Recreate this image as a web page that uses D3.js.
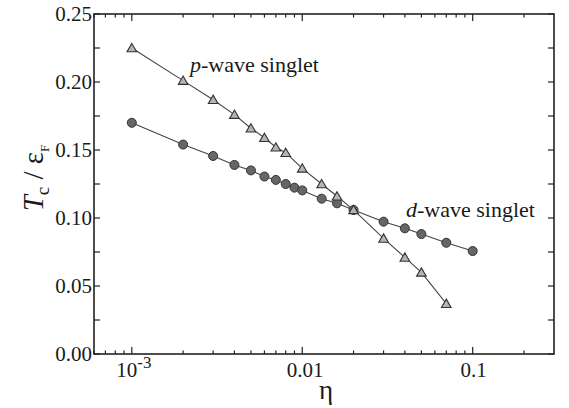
<!DOCTYPE html>
<html><head><meta charset="utf-8">
<script src="https://cdn.jsdelivr.net/npm/d3@7"></script>
<style>body{margin:0;background:#fff}svg{display:block}</style>
</head><body><svg id="c" width="569" height="408" font-family="Liberation Serif"></svg>
<script>
// Data
const pEta = [0.001,0.002,0.003,0.004,0.005,0.006,0.007,0.008,0.01,0.013,0.016,0.02,0.03,0.04,0.05,0.07];
const pTc  = [0.225,0.201,0.187,0.176,0.166,0.159,0.152,0.148,0.1365,0.125,0.116,0.106,0.085,0.071,0.060,0.037];
const dEta = [0.001,0.002,0.003,0.004,0.005,0.006,0.007,0.008,0.009,0.01,0.013,0.016,0.02,0.03,0.04,0.05,0.07,0.1];
const dTc  = [0.170,0.154,0.1456,0.139,0.1350,0.1305,0.128,0.125,0.1223,0.1203,0.1142,0.1108,0.1059,0.0973,0.0924,0.0882,0.0818,0.0757];
const yTicks = [0,0.05,0.10,0.15,0.20,0.25];
const xMajor = [0.001,0.01,0.1];

const svg = d3.select("#c");
const L=94,R=554,T=14,B=354;
const x = d3.scaleLog().domain([6e-4,0.3]).range([L,R]);
const y = d3.scaleLinear().domain([0,0.25]).range([B,T]);

// minor x ticks
const xMinor=[];
for (let e=-4;e<=-1;e++) for (let m=2;m<=9;m++){const v=m*Math.pow(10,e); if(v>=6e-4&&v<=0.3) xMinor.push(v);}
const yMinor=d3.range(0.025,0.25,0.05);

const g=svg.append("g").attr("stroke","#222").attr("stroke-width",1.2);
xMinor.forEach(v=>{g.append("line").attr("x1",x(v)).attr("x2",x(v)).attr("y1",B).attr("y2",B-3.5);
  g.append("line").attr("x1",x(v)).attr("x2",x(v)).attr("y1",T).attr("y2",T+3.5);});
xMajor.forEach(v=>{g.append("line").attr("x1",x(v)).attr("x2",x(v)).attr("y1",B).attr("y2",B-7);
  g.append("line").attr("x1",x(v)).attr("x2",x(v)).attr("y1",T).attr("y2",T+7);});
yTicks.forEach(v=>{g.append("line").attr("x1",L).attr("x2",L+6).attr("y1",y(v)).attr("y2",y(v));
  g.append("line").attr("x1",R).attr("x2",R-6).attr("y1",y(v)).attr("y2",y(v));});
yMinor.forEach(v=>{g.append("line").attr("x1",L).attr("x2",L+6).attr("y1",y(v)).attr("y2",y(v));
  g.append("line").attr("x1",R).attr("x2",R-6).attr("y1",y(v)).attr("y2",y(v));});
svg.append("rect").attr("x",L).attr("y",T).attr("width",R-L).attr("height",B-T)
  .attr("fill","none").attr("stroke","#222").attr("stroke-width",1.6);

const txt="#1a1a1a";
// y tick labels
yTicks.forEach(v=>svg.append("text").attr("x",L-2).attr("y",y(v)+7).attr("text-anchor","end")
  .attr("fill",txt).attr("font-size",21).text(d3.format(".2f")(v)));
// x tick labels
const t3=svg.append("text").attr("x",x(0.001)+2).attr("y",377).attr("text-anchor","middle").attr("fill",txt).attr("font-size",21);
t3.append("tspan").text("10");
t3.append("tspan").attr("dy",-9).attr("font-size",17).text("-3");
svg.append("text").attr("x",x(0.01)+3).attr("y",377).attr("text-anchor","middle").attr("fill",txt).attr("font-size",21).text("0.01");
svg.append("text").attr("x",x(0.1)+1).attr("y",377).attr("text-anchor","middle").attr("fill",txt).attr("font-size",21).text("0.1");

// axis titles
svg.append("text").attr("x",326).attr("y",399).attr("text-anchor","middle").attr("fill",txt).attr("font-size",27).text("η");
const yl=svg.append("text").attr("transform","translate(43,178) rotate(-90)").attr("text-anchor","middle").attr("fill",txt).attr("font-size",29);
yl.append("tspan").attr("font-style","italic").text("T");
yl.append("tspan").attr("dy",6).attr("font-size",19).text("c");
yl.append("tspan").attr("dy",-6).text(" / ε");
yl.append("tspan").attr("dy",6).attr("font-size",13).text("F");

// lines
const line=d3.line().x(d=>x(d[0])).y(d=>y(d[1]));
const pData=pEta.map((e,i)=>[e,pTc[i]]), dData=dEta.map((e,i)=>[e,dTc[i]]);
svg.append("path").attr("d",line(dData)).attr("fill","none").attr("stroke","#444").attr("stroke-width",1.1);
svg.append("path").attr("d",line(pData)).attr("fill","none").attr("stroke","#444").attr("stroke-width",1.1);
svg.selectAll("circle.d").data(dData).enter().append("circle")
  .attr("cx",d=>x(d[0])).attr("cy",d=>y(d[1])).attr("r",4.5)
  .attr("fill","#666").attr("stroke","#333").attr("stroke-width",1);
const tri=d3.symbol().type(d3.symbolTriangle).size(40);
svg.selectAll("path.p").data(pData).enter().append("path")
  .attr("transform",d=>`translate(${x(d[0])},${y(d[1])+1})`).attr("d",tri)
  .attr("fill","#b4b4b4").attr("stroke","#333").attr("stroke-width",1.1);

// series labels
const pl=svg.append("text").attr("x",190).attr("y",72).attr("fill",txt).attr("font-size",22);
pl.append("tspan").attr("font-style","italic").text("p");
pl.append("tspan").text("-wave singlet");
const dl=svg.append("text").attr("x",406).attr("y",217).attr("fill",txt).attr("font-size",22);
dl.append("tspan").attr("font-style","italic").text("d");
dl.append("tspan").text("-wave singlet");
</script></body></html>
